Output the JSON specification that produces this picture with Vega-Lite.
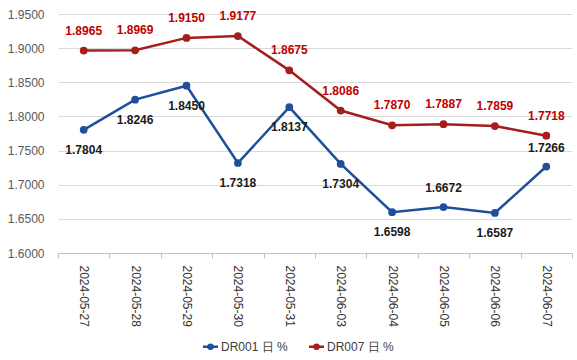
{
  "$schema": "https://vega.github.io/schema/vega-lite/v6.json",
  "width": 514,
  "height": 239,
  "autosize": {"type": "none"},
  "padding": {"left": 58, "top": 14, "right": 5, "bottom": 107},
  "background": "white",
  "config": {
    "view": {"stroke": null},
    "font": "Liberation Sans"
  },
  "data": {
    "values": [
      {"date": "2024-05-27", "series": "DR001 日 %", "value": 1.7804},
      {"date": "2024-05-28", "series": "DR001 日 %", "value": 1.8246},
      {"date": "2024-05-29", "series": "DR001 日 %", "value": 1.8450},
      {"date": "2024-05-30", "series": "DR001 日 %", "value": 1.7318},
      {"date": "2024-05-31", "series": "DR001 日 %", "value": 1.8137},
      {"date": "2024-06-03", "series": "DR001 日 %", "value": 1.7304},
      {"date": "2024-06-04", "series": "DR001 日 %", "value": 1.6598},
      {"date": "2024-06-05", "series": "DR001 日 %", "value": 1.6672},
      {"date": "2024-06-06", "series": "DR001 日 %", "value": 1.6587},
      {"date": "2024-06-07", "series": "DR001 日 %", "value": 1.7266},
      {"date": "2024-05-27", "series": "DR007 日 %", "value": 1.8965},
      {"date": "2024-05-28", "series": "DR007 日 %", "value": 1.8969},
      {"date": "2024-05-29", "series": "DR007 日 %", "value": 1.9150},
      {"date": "2024-05-30", "series": "DR007 日 %", "value": 1.9177},
      {"date": "2024-05-31", "series": "DR007 日 %", "value": 1.8675},
      {"date": "2024-06-03", "series": "DR007 日 %", "value": 1.8086},
      {"date": "2024-06-04", "series": "DR007 日 %", "value": 1.7870},
      {"date": "2024-06-05", "series": "DR007 日 %", "value": 1.7887},
      {"date": "2024-06-06", "series": "DR007 日 %", "value": 1.7859},
      {"date": "2024-06-07", "series": "DR007 日 %", "value": 1.7718}
    ]
  },
  "encoding": {
    "x": {
      "field": "date", "type": "nominal", "sort": null,
      "scale": {"paddingInner": 0, "paddingOuter": 0},
      "axis": {
        "title": null, "labelAngle": 90, "labelAlign": "left", "labelBaseline": "middle",
        "labelPadding": 7, "labelFontSize": 12, "labelColor": "#333333",
        "domainColor": "#bfbfbf", "tickColor": "#bfbfbf", "tickSize": 5,
        "tickBand": "extent", "grid": false
      }
    },
    "y": {
      "field": "value", "type": "quantitative",
      "scale": {"domain": [1.6, 1.95], "nice": false, "zero": false},
      "axis": {
        "title": null, "values": [1.6, 1.65, 1.7, 1.75, 1.8, 1.85, 1.9, 1.95],
        "format": ".4f", "domain": false, "ticks": false, "labelPadding": 14,
        "labelFontSize": 12, "labelColor": "#595959",
        "gridColor": "#d9d9d9", "gridWidth": 1.2
      }
    }
  },
  "layer": [
    {
      "mark": {"type": "line", "strokeWidth": 2.5},
      "encoding": {
        "color": {
          "field": "series", "type": "nominal",
          "scale": {"domain": ["DR001 日 %", "DR007 日 %"], "range": ["#1f4e9c", "#a51d1d"]},
          "legend": {
            "title": null, "orient": "none", "direction": "horizontal",
            "legendX": 146, "legendY": 326, "padding": 0,
            "symbolType": "M-1.5,0H1.5M-0.4,0A0.4,0.4,0,1,1,0.4,0A0.4,0.4,0,1,1,-0.4,0",
            "symbolSize": 100, "symbolStrokeWidth": 2.5,
            "labelFontSize": 12, "labelColor": "#404040", "labelFont": "Liberation Sans",
            "labelOffset": 4, "columnPadding": 16
          }
        }
      }
    },
    {
      "mark": {"type": "point", "filled": true, "size": 60, "opacity": 1},
      "encoding": {
        "color": {"field": "series", "type": "nominal"}
      }
    },
    {
      "transform": [{"filter": "datum.series == 'DR007 日 %'"}],
      "mark": {"type": "text", "dy": -20, "fontSize": 12, "fontWeight": "bold", "color": "#c00000"},
      "encoding": {"text": {"field": "value", "type": "quantitative", "format": ".4f"}}
    },
    {
      "transform": [{"filter": "datum.series == 'DR001 日 %' && datum.date != '2024-06-05' && datum.date != '2024-06-07'"}],
      "mark": {"type": "text", "dy": 20, "fontSize": 12, "fontWeight": "bold", "color": "#1a1a1a"},
      "encoding": {"text": {"field": "value", "type": "quantitative", "format": ".4f"}}
    },
    {
      "transform": [{"filter": "datum.series == 'DR001 日 %' && (datum.date == '2024-06-05' || datum.date == '2024-06-07')"}],
      "mark": {"type": "text", "dy": -19, "fontSize": 12, "fontWeight": "bold", "color": "#1a1a1a"},
      "encoding": {"text": {"field": "value", "type": "quantitative", "format": ".4f"}}
    }
  ]
}
